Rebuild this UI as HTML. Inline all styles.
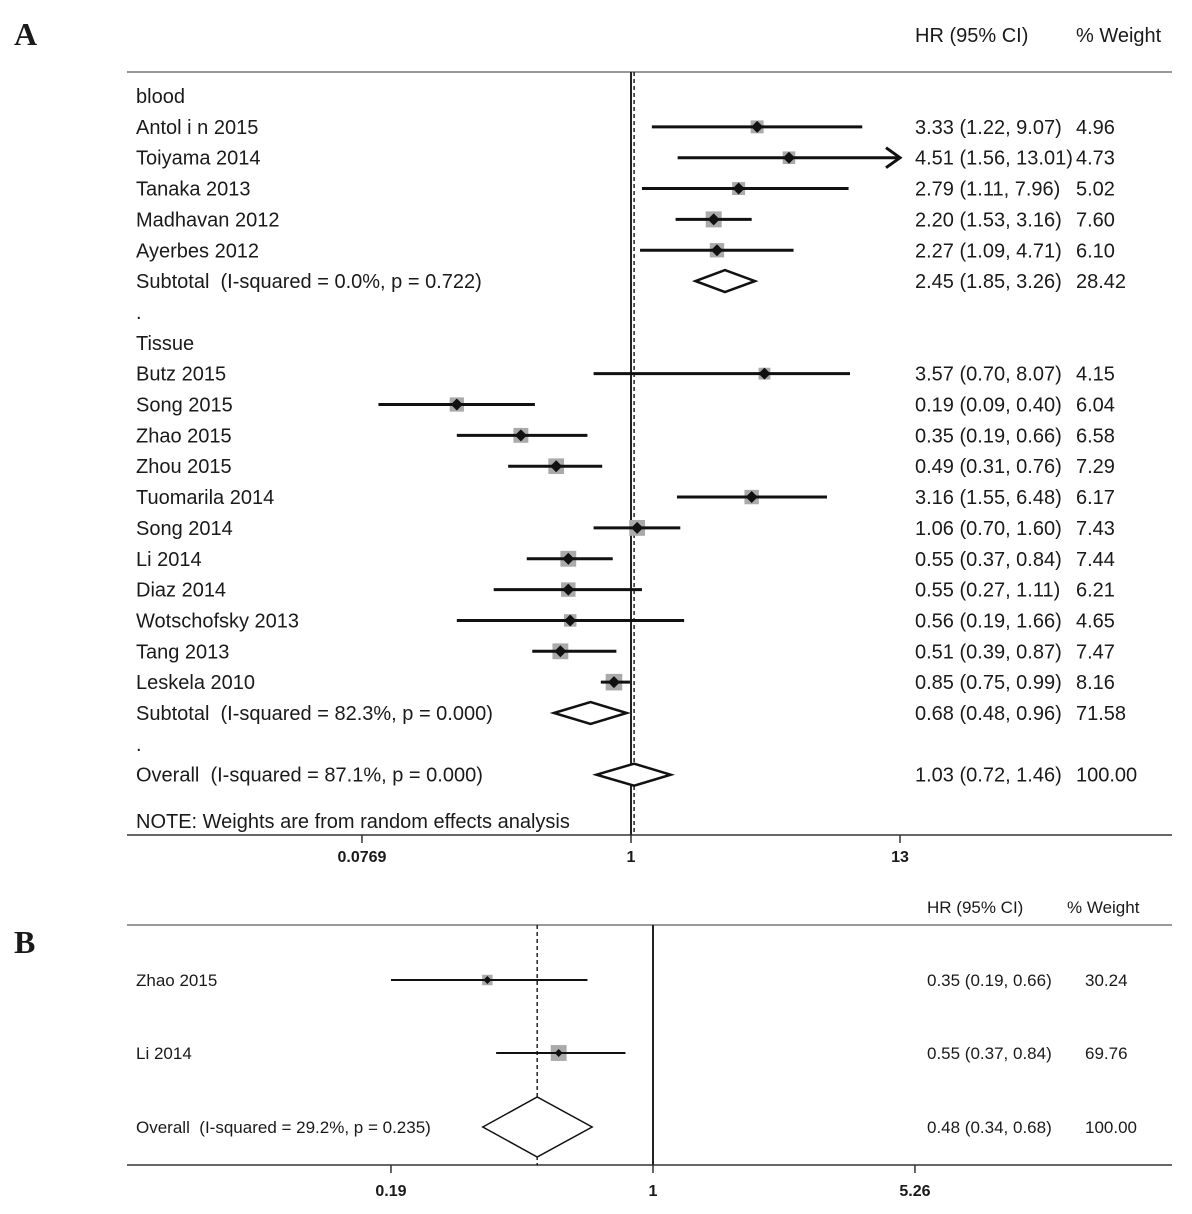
<!DOCTYPE html>
<html><head><meta charset="utf-8"><style>
body{margin:0;background:#fff}
svg{display:block}
text{font-family:"Liberation Sans",sans-serif;fill:#1a1a1a;white-space:pre}
</style></head><body>
<svg id="chart" width="1192" height="1214" viewBox="0 0 1192 1214">
<text x="14" y="45" style="font-family:'Liberation Serif',serif;font-weight:bold;font-size:32px">A</text>
<text x="14" y="953" style="font-family:'Liberation Serif',serif;font-weight:bold;font-size:32px">B</text>
<g id="pa"></g>
<g id="pb"></g>
</svg>
<script>
// Panel A data
const aLabels=["Antol i n 2015","Toiyama 2014","Tanaka 2013","Madhavan 2012","Ayerbes 2012","Butz 2015","Song 2015","Zhao 2015","Zhou 2015","Tuomarila 2014","Song 2014","Li 2014","Diaz 2014","Wotschofsky 2013","Tang 2013","Leskela 2010"];
const aHR=[3.33,4.51,2.79,2.20,2.27,3.57,0.19,0.35,0.49,3.16,1.06,0.55,0.55,0.56,0.51,0.85];
const aLo=[1.22,1.56,1.11,1.53,1.09,0.70,0.09,0.19,0.31,1.55,0.70,0.37,0.27,0.19,0.39,0.75];
const aHi=[9.07,13.01,7.96,3.16,4.71,8.07,0.40,0.66,0.76,6.48,1.60,0.84,1.11,1.66,0.87,0.99];
const aW=[4.96,4.73,5.02,7.60,6.10,4.15,6.04,6.58,7.29,6.17,7.43,7.44,6.21,4.65,7.47,8.16];
const aRows=[1,2,3,4,5,9,10,11,12,13,14,15,16,17,18,19];
const aPooledLabels=["Subtotal  (I-squared = 0.0%, p = 0.722)","Subtotal  (I-squared = 82.3%, p = 0.000)","Overall  (I-squared = 87.1%, p = 0.000)"];
const aPooledHR=[2.45,0.68,1.03];
const aPooledLo=[1.85,0.48,0.72];
const aPooledHi=[3.26,0.96,1.46];
const aPooledW=[28.42,71.58,100.00];
const aPooledRows=[6,20,22];
const aTicks=[0.0769,1,13];
// Panel B data
const bLabels=["Zhao 2015","Li 2014"];
const bHR=[0.35,0.55];
const bLo=[0.19,0.37];
const bHi=[0.66,0.84];
const bW=[30.24,69.76];
const bPooledHR=[0.48];
const bPooledLo=[0.34];
const bPooledHi=[0.68];
const bTicks=[0.19,1,5.26];

const NS="http://www.w3.org/2000/svg";
function mk(p,tag,at,name,txt){const e=document.createElementNS(NS,tag);for(const k in at)e.setAttribute(k,at[k]);


if(txt!==undefined)e.textContent=txt;p.appendChild(e);return e;}
const f2=v=>v.toFixed(2);
const FA=20, FB=17;

// Panel A
const A=document.getElementById('pa');
const xA=v=>631+241.5*Math.log10(v);
const yA=r=>96+r*30.85;
const xMaxA=900;
mk(A,'line',{x1:127,y1:72,x2:1172,y2:72,stroke:'#999','stroke-width':2},'top-rule');
mk(A,'line',{x1:127,y1:835,x2:1172,y2:835,stroke:'#333','stroke-width':1.5},'x-axis');
mk(A,'line',{x1:xA(1),y1:72,x2:xA(1),y2:835,stroke:'#222','stroke-width':2},'null-line');
mk(A,'line',{x1:xA(aPooledHR[2]),y1:72,x2:xA(aPooledHR[2]),y2:835,stroke:'#222','stroke-width':1.5,'stroke-dasharray':'4,3'},'overall-effect-line');
aTicks.forEach(t=>{mk(A,'line',{x1:xA(t),y1:835,x2:xA(t),y2:843,stroke:'#333','stroke-width':1.5},'x-tick');
mk(A,'text',{x:xA(t),y:862,'text-anchor':'middle','font-size':16,'font-weight':'bold'},'x-tick-label',String(t));});
mk(A,'text',{x:915,y:42,'font-size':FA},'hr-column-header','HR (95% CI)');
mk(A,'text',{x:1076,y:42,'font-size':FA},'weight-column-header','% Weight');
mk(A,'text',{x:136,y:yA(0)+7,'font-size':FA},'group-blood-label','blood');
mk(A,'text',{x:136,y:yA(7)+7,'font-size':FA},'separator-dot','.');
mk(A,'text',{x:136,y:yA(8)+7,'font-size':FA},'group-tissue-label','Tissue');
mk(A,'text',{x:136,y:yA(21)+7,'font-size':FA},'separator-dot','.');
mk(A,'text',{x:136,y:828,'font-size':FA},'weights-note','NOTE: Weights are from random effects analysis');
aLabels.forEach((l,i)=>{const y=yA(aRows[i]);
mk(A,'text',{x:136,y:y+7,'font-size':FA},'study-label',l);
mk(A,'text',{x:915,y:y+7,'font-size':FA},'study-hr-ci',f2(aHR[i])+' ('+f2(aLo[i])+', '+f2(aHi[i])+')');
mk(A,'text',{x:1076,y:y+7,'font-size':FA},'study-weight',f2(aW[i]));
const s=Math.sqrt(aW[i])*5.8,cx=xA(aHR[i]);
mk(A,'rect',{x:cx-s/2,y:y-s/2,width:s,height:s,fill:'#aaa'},'weight-box');
const hi=Math.min(xA(aHi[i]),xMaxA);
mk(A,'line',{x1:xA(aLo[i]),y1:y,x2:hi,y2:y,stroke:'#111','stroke-width':3},'ci-line');
if(xA(aHi[i])>xMaxA)mk(A,'path',{d:`M${hi-14},${y-10} L${hi},${y} L${hi-14},${y+10}`,fill:'none',stroke:'#111','stroke-width':3},'ci-arrow');
mk(A,'path',{d:`M${cx-6},${y} L${cx},${y-6} L${cx+6},${y} L${cx},${y+6}Z`,fill:'#111'},'point-estimate');});
aPooledLabels.forEach((l,i)=>{const y=yA(aPooledRows[i]);
mk(A,'text',{x:136,y:y+7,'font-size':FA},'pooled-label',l);
mk(A,'text',{x:915,y:y+7,'font-size':FA},'pooled-hr-ci',f2(aPooledHR[i])+' ('+f2(aPooledLo[i])+', '+f2(aPooledHi[i])+')');
mk(A,'text',{x:1076,y:y+7,'font-size':FA},'pooled-weight',f2(aPooledW[i]));
mk(A,'path',{d:`M${xA(aPooledLo[i])},${y} L${xA(aPooledHR[i])},${y-11} L${xA(aPooledHi[i])},${y} L${xA(aPooledHR[i])},${y+11}Z`,fill:'#fff',stroke:'#111','stroke-width':2.5},'pooled-diamond');});

// Panel B
const B=document.getElementById('pb');
const xB=v=>653+363.3*Math.log10(v);
const bY=[980,1053],bOY=1127;
mk(B,'line',{x1:127,y1:925,x2:1172,y2:925,stroke:'#999','stroke-width':2},'top-rule');
mk(B,'line',{x1:127,y1:1165,x2:1172,y2:1165,stroke:'#333','stroke-width':1.5},'x-axis');
mk(B,'line',{x1:xB(1),y1:925,x2:xB(1),y2:1165,stroke:'#222','stroke-width':2},'null-line');
mk(B,'line',{x1:xB(bPooledHR[0]),y1:925,x2:xB(bPooledHR[0]),y2:1165,stroke:'#222','stroke-width':1.5,'stroke-dasharray':'4,3'},'overall-effect-line');
bTicks.forEach(t=>{mk(B,'line',{x1:xB(t),y1:1165,x2:xB(t),y2:1173,stroke:'#333','stroke-width':1.5},'x-tick');
mk(B,'text',{x:xB(t),y:1196,'text-anchor':'middle','font-size':16,'font-weight':'bold'},'x-tick-label',String(t));});
mk(B,'text',{x:927,y:913,'font-size':FB},'hr-column-header','HR (95% CI)');
mk(B,'text',{x:1067,y:913,'font-size':FB},'weight-column-header','% Weight');
bLabels.forEach((l,i)=>{const y=bY[i];
mk(B,'text',{x:136,y:y+6,'font-size':FB},'study-label',l);
mk(B,'text',{x:927,y:y+6,'font-size':FB},'study-hr-ci',f2(bHR[i])+' ('+f2(bLo[i])+', '+f2(bHi[i])+')');
mk(B,'text',{x:1085,y:y+6,'font-size':FB},'study-weight',f2(bW[i]));
const s=Math.sqrt(bW[i])*1.9,cx=xB(bHR[i]);
mk(B,'rect',{x:cx-s/2,y:y-s/2,width:s,height:s,fill:'#aaa'},'weight-box');
mk(B,'line',{x1:xB(bLo[i]),y1:y,x2:xB(bHi[i]),y2:y,stroke:'#111','stroke-width':2},'ci-line');
mk(B,'path',{d:`M${cx-4},${y} L${cx},${y-4} L${cx+4},${y} L${cx},${y+4}Z`,fill:'#111'},'point-estimate');});
mk(B,'text',{x:136,y:bOY+6,'font-size':FB},'pooled-label','Overall  (I-squared = 29.2%, p = 0.235)');
mk(B,'text',{x:927,y:bOY+6,'font-size':FB},'pooled-hr-ci',f2(bPooledHR[0])+' ('+f2(bPooledLo[0])+', '+f2(bPooledHi[0])+')');
mk(B,'text',{x:1085,y:bOY+6,'font-size':FB},'pooled-weight','100.00');
mk(B,'path',{d:`M${xB(bPooledLo[0])},${bOY} L${xB(bPooledHR[0])},${bOY-30} L${xB(bPooledHi[0])},${bOY} L${xB(bPooledHR[0])},${bOY+30}Z`,fill:'#fff',stroke:'#111','stroke-width':1.5},'pooled-diamond');
</script>
</body></html>
